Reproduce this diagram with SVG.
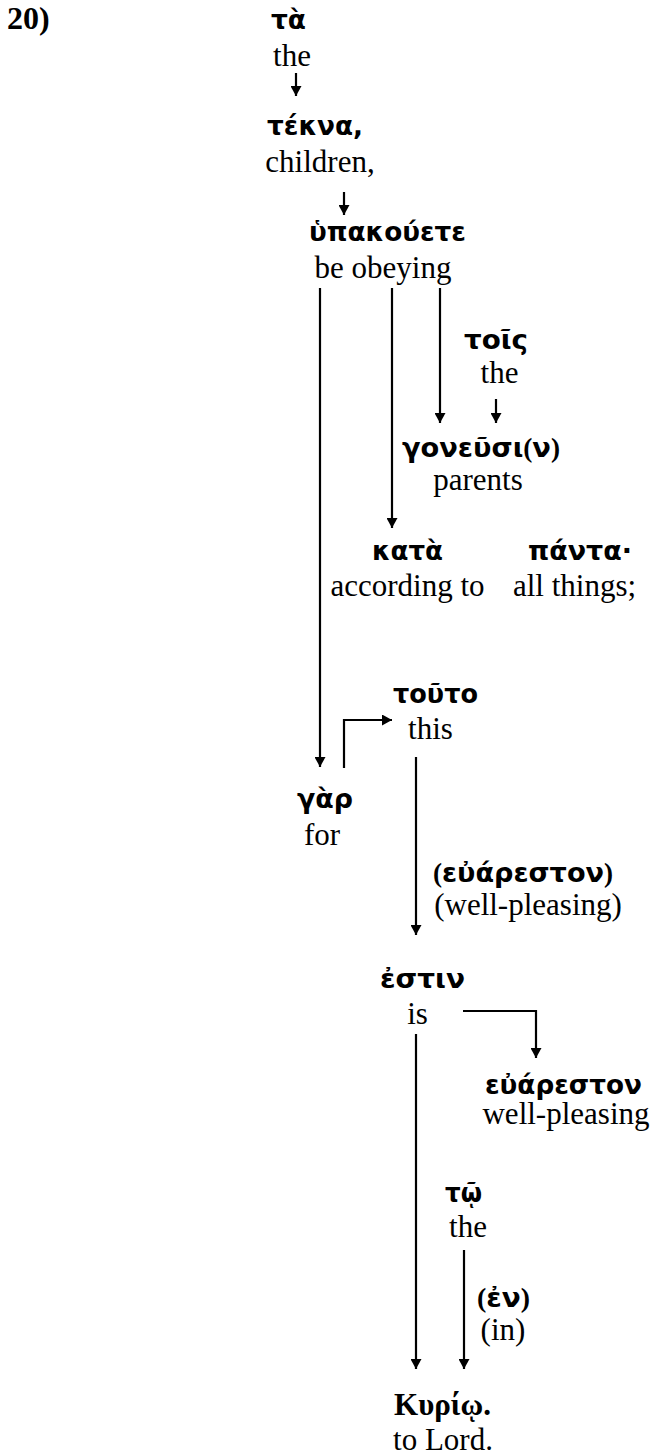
<svg xmlns="http://www.w3.org/2000/svg" width="655" height="1456" viewBox="0 0 655 1456">
<style>
.gk{font-family:"DejaVu Sans","Noto Sans",sans-serif;font-weight:bold;font-size:27px;fill:#000;text-anchor:middle}
.en{font-family:"Liberation Serif","Times New Roman",serif;font-size:31px;fill:#000;text-anchor:middle}
.sp{font-family:"Liberation Serif","Times New Roman",serif}
.bs{font-family:"Liberation Serif","Times New Roman",serif;font-weight:bold;font-size:31px;fill:#000;text-anchor:middle}
.ln{fill:none;stroke:#000;stroke-width:2.2}
</style>
<defs>
<marker id="ah" markerUnits="userSpaceOnUse" markerWidth="11" markerHeight="11" refX="10" refY="5.5" orient="auto">
<path d="M0,0 L10,5.5 L0,11 z" fill="#000"/>
</marker>
</defs>
<rect width="655" height="1456" fill="#fff"/>
<g id="verse"><text x="7" y="29" font-family="Liberation Serif,serif" font-weight="bold" font-size="32">20)</text></g>
<g id="n-ta"><text class="gk" x="288.5" y="29" textLength="35" lengthAdjust="spacingAndGlyphs">τὰ</text><text class="en" x="292" y="66">the</text></g>
<g id="n-tekna"><text class="gk" x="315" y="135" textLength="96" lengthAdjust="spacingAndGlyphs">τέκνα,</text><text class="en" x="320" y="172">children,</text></g>
<g id="n-hypakouete"><text class="gk" x="387.5" y="241" textLength="157" lengthAdjust="spacingAndGlyphs">ὑπακούετε</text><text class="en" x="383" y="278">be obeying</text></g>
<g id="n-tois"><text class="gk" x="496" y="349" textLength="64" lengthAdjust="spacingAndGlyphs">τοῖς</text><text class="en" x="499.5" y="383">the</text></g>
<g id="n-goneusin"><text class="gk" x="481" y="457" textLength="158" lengthAdjust="spacingAndGlyphs">γονεῦσι<tspan class="sp">(</tspan>ν<tspan class="sp">)</tspan></text><text class="en" x="478" y="490">parents</text></g>
<g id="n-kata"><text class="gk" x="407.5" y="560" textLength="71" lengthAdjust="spacingAndGlyphs">κατὰ</text><text class="en" x="407.5" y="596">according to</text></g>
<g id="n-panta"><text class="gk" x="580" y="560" textLength="104" lengthAdjust="spacingAndGlyphs">πάντα·</text><text class="en" x="574.5" y="596">all things;</text></g>
<g id="n-touto"><text class="gk" x="435.5" y="703" textLength="85" lengthAdjust="spacingAndGlyphs">τοῦτο</text><text class="en" x="430.5" y="739">this</text></g>
<g id="n-gar"><text class="gk" x="325" y="808" textLength="56" lengthAdjust="spacingAndGlyphs">γὰρ</text><text class="en" x="322" y="845">for</text></g>
<g id="n-euareston1"><text class="gk" x="523" y="882" textLength="180" lengthAdjust="spacingAndGlyphs"><tspan class="sp">(</tspan>εὐάρεστον<tspan class="sp">)</tspan></text><text class="en" x="528" y="915">(well-pleasing)</text></g>
<g id="n-estin"><text class="gk" x="422.5" y="988" textLength="85" lengthAdjust="spacingAndGlyphs">ἐστιν</text><text class="en" x="417.5" y="1024">is</text></g>
<g id="n-euareston2"><text class="gk" x="563.5" y="1094" textLength="157" lengthAdjust="spacingAndGlyphs">εὐάρεστον</text><text class="en" x="566" y="1124">well-pleasing</text></g>
<g id="n-to"><text class="gk" x="463.5" y="1202" textLength="37" lengthAdjust="spacingAndGlyphs">τῷ</text><text class="en" x="468" y="1237">the</text></g>
<g id="n-en"><text class="gk" x="503.5" y="1307" textLength="53" lengthAdjust="spacingAndGlyphs"><tspan class="sp">(</tspan>ἐν<tspan class="sp">)</tspan></text><text class="en" x="503" y="1340">(in)</text></g>
<g id="n-kyrio"><text class="bs" x="442.5" y="1415">Κυρίῳ.</text><text class="en" x="443" y="1450">to Lord.</text></g>
<g id="connectors">
<path class="ln" d="M296,73 V96" marker-end="url(#ah)"/>
<path class="ln" d="M344,192 V215" marker-end="url(#ah)"/>
<path class="ln" d="M320,288 V767" marker-end="url(#ah)"/>
<path class="ln" d="M392,288 V528" marker-end="url(#ah)"/>
<path class="ln" d="M440,288 V423" marker-end="url(#ah)"/>
<path class="ln" d="M496,399 V423" marker-end="url(#ah)"/>
<path class="ln" d="M344,768 V720 H392" marker-end="url(#ah)"/>
<path class="ln" d="M416,757 V935" marker-end="url(#ah)"/>
<path class="ln" d="M463,1011 H536 V1058" marker-end="url(#ah)"/>
<path class="ln" d="M416,1034 V1369" marker-end="url(#ah)"/>
<path class="ln" d="M464,1250 V1369" marker-end="url(#ah)"/>
</g>
</svg>
